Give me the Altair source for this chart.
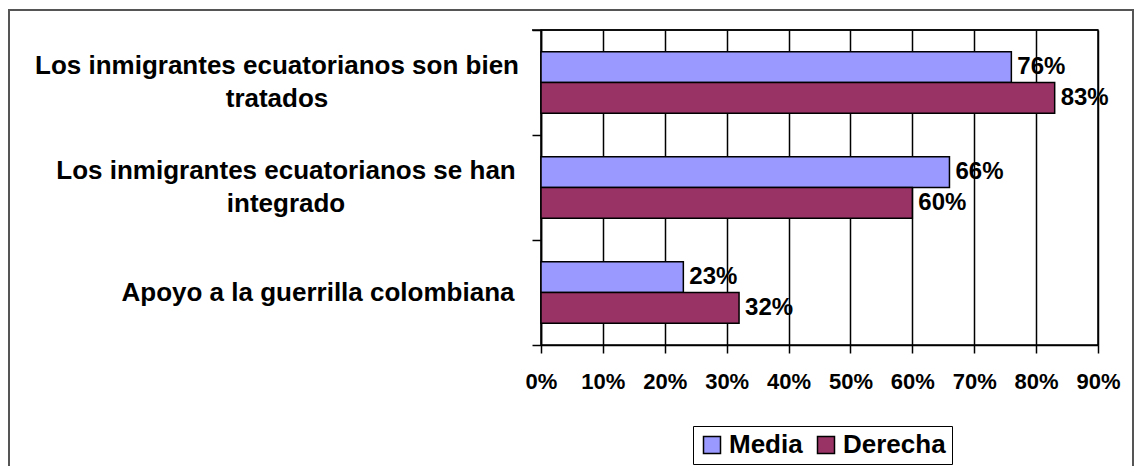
import altair as alt
import pandas as pd

categories = [
    "Los inmigrantes ecuatorianos son bien tratados",
    "Los inmigrantes ecuatorianos se han integrado",
    "Apoyo a la guerrilla colombiana",
]
label_lines = [
    ["Los inmigrantes ecuatorianos son bien", "tratados"],
    ["Los inmigrantes ecuatorianos se han", "integrado"],
    ["Apoyo a la guerrilla colombiana"],
]
series = ["Media", "Derecha"]
media = [76, 66, 23]
derecha = [83, 60, 32]
colors = ["#9999FF", "#993366"]
tick_values = [0, 10, 20, 30, 40, 50, 60, 70, 80, 90]

FONT = "Liberation Sans"

rows = []
for c, m, d in zip(categories, media, derecha):
    rows.append({"cat": c, "serie": "Media", "v": m})
    rows.append({"cat": c, "serie": "Derecha", "v": d})
df = pd.DataFrame(rows)

y_enc = alt.Y(
    "cat:N",
    sort=categories,
    scale=alt.Scale(paddingInner=0, paddingOuter=0),
    axis=alt.Axis(
        labels=False, title=None, grid=False, tickBand="extent",
        tickSize=9, tickColor="black", tickWidth=1.5,
        domainColor="black", domainWidth=1.5,
    ),
)
yoff_enc = alt.YOffset(
    "serie:N", sort=series, scale=alt.Scale(paddingInner=0, paddingOuter=0.71)
)
x_enc = alt.X(
    "v:Q",
    scale=alt.Scale(domain=[0, 90], nice=False, zero=True),
    axis=alt.Axis(
        values=tick_values, labelExpr="datum.value + '%'", title=None,
        grid=True, gridColor="black", gridWidth=1.5,
        domainColor="black", domainWidth=1.5,
        tickColor="black", tickWidth=1.5, tickSize=8,
        labelFont=FONT, labelFontSize=22, labelFontWeight="bold",
        labelColor="black", labelPadding=18, labelFlush=False,
    ),
)

one = pd.DataFrame({"a": [0]})

border = alt.Chart(one).mark_rect(
    fillOpacity=0, stroke="#555555", strokeWidth=2
).encode(
    x=alt.value(-532), x2=alt.value(592), y=alt.value(-20), y2=alt.value(460)
)

top_line = alt.Chart(one).mark_rule(color="black", strokeWidth=1.5).encode(
    x=alt.value(-9), x2=alt.value(557), y=alt.value(0)
)

bars = alt.Chart(df).mark_bar(stroke="black", strokeWidth=1.5).encode(
    x=x_enc,
    y=y_enc,
    yOffset=yoff_enc,
    color=alt.Color(
        "serie:N",
        sort=series,
        scale=alt.Scale(domain=series, range=colors),
        legend=alt.Legend(
            orient="none", legendX=152, legendY=396, direction="horizontal",
            title=None, symbolType="square", symbolSize=289,
            symbolStrokeColor="black", symbolStrokeWidth=1.5,
            labelFont=FONT, labelFontSize=26, labelFontWeight="bold",
            labelColor="black", labelOffset=4,
            strokeColor="black", fillColor="white", padding=6,
            columnPadding=10,
        ),
    ),
)

values = alt.Chart(df).transform_calculate(
    lbl="datum.v + '%'"
).mark_text(
    align="left", baseline="middle", dx=6, font=FONT, fontSize=24,
    fontWeight="bold", color="black",
).encode(x=x_enc, y=y_enc, yOffset=yoff_enc, text="lbl:N")

centers = [-264, -255, -223]
cat_layers = []
for c, lines, cx in zip(categories, label_lines, centers):
    t = alt.Chart(pd.DataFrame({"cat": [c], "txt": ["\n".join(lines)]})).mark_text(
        align="center", baseline="middle", font=FONT, fontSize=26,
        fontWeight="bold", color="black", lineBreak="\n", lineHeight=33,
        dy=-16.5 * (len(lines) - 1),
    ).encode(x=alt.value(cx), y=y_enc, text="txt:N")
    cat_layers.append(t)

chart = alt.layer(border, top_line, bars, values, *cat_layers).properties(
    width=557,
    height=315,
    autosize=alt.AutoSizeParams(type="none"),
    padding={"left": 533, "top": 22, "right": 37, "bottom": 121},
).configure(
    font=FONT, background="white"
).configure_view(
    stroke="black", strokeWidth=1.5
)

chart.save("out.html", embed_options={"renderer": "svg", "actions": False})
